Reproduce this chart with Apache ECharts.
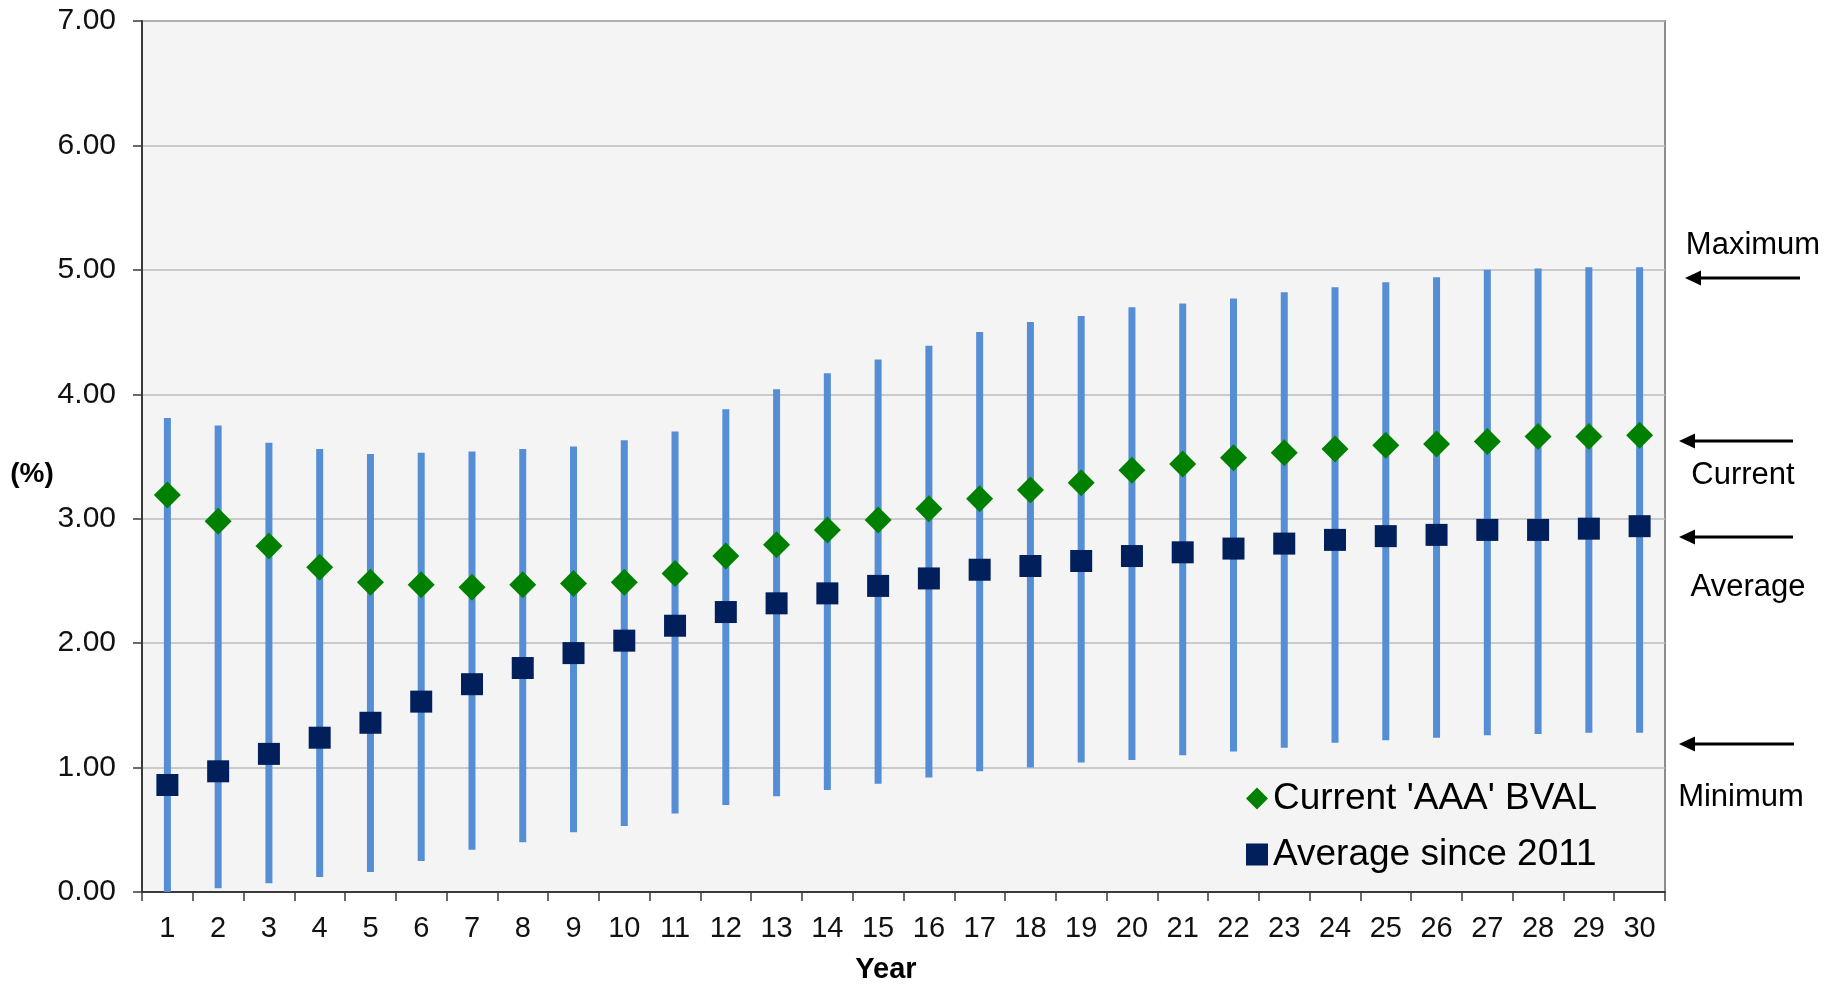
<!DOCTYPE html>
<html>
<head>
<meta charset="utf-8">
<script src="https://cdn.jsdelivr.net/npm/echarts@6/dist/echarts.min.js"></script>
<style>
html,body{margin:0;padding:0;background:#fff;}
#chart{width:1829px;height:986px;}
</style>
</head>
<body>
<div id="chart"></div>
<script>
const years = ['1','2','3','4','5','6','7','8','9','10','11','12','13','14','15','16','17','18','19','20','21','22','23','24','25','26','27','28','29','30'];
const maxValues = [3.81,3.75,3.61,3.56,3.52,3.53,3.54,3.56,3.58,3.63,3.70,3.88,4.04,4.17,4.28,4.39,4.50,4.58,4.63,4.70,4.73,4.77,4.82,4.86,4.90,4.94,5.00,5.01,5.02,5.02];
const minValues = [0.00,0.03,0.07,0.12,0.16,0.25,0.34,0.40,0.48,0.53,0.63,0.70,0.77,0.82,0.87,0.92,0.97,1.00,1.04,1.06,1.10,1.13,1.16,1.20,1.22,1.24,1.26,1.27,1.28,1.28];
const currentBVAL = [3.19,2.98,2.78,2.61,2.49,2.47,2.45,2.47,2.48,2.49,2.56,2.70,2.79,2.91,2.99,3.08,3.16,3.23,3.29,3.39,3.44,3.49,3.53,3.56,3.59,3.60,3.62,3.66,3.66,3.67];
const averageSince2011 = [0.86,0.97,1.11,1.24,1.36,1.53,1.67,1.80,1.92,2.02,2.14,2.25,2.32,2.40,2.46,2.52,2.59,2.62,2.66,2.70,2.73,2.76,2.80,2.83,2.86,2.87,2.91,2.91,2.92,2.94];
const yTicks = [0,1,2,3,4,5,6,7];
const seriesNames = ["Current 'AAA' BVAL", 'Average since 2011'];
const annotations = ['Maximum','Current','Average','Minimum'];

const FONT = '"Liberation Sans", Arial, sans-serif';
const chart = echarts.init(document.getElementById('chart'), null, {renderer:'canvas'});

function arrow(xTip, xEnd, y){
  return [
    {type:'line', shape:{x1:xTip+12, y1:y, x2:xEnd, y2:y}, style:{stroke:'#000', lineWidth:3}},
    {type:'polygon', shape:{points:[[xTip,y],[xTip+16,y-7.5],[xTip+16,y+7.5]]}, style:{fill:'#000'}}
  ];
}

const graphics = [
  {type:'text', x:32, y:474, style:{text:'(%)', font:'bold 28px '+FONT, fill:'#000', align:'center', verticalAlign:'middle'}},
  {type:'text', x:886, y:970, style:{text:'Year', font:'bold 29px '+FONT, fill:'#000', align:'center', verticalAlign:'middle'}},
  {type:'text', x:1753, y:245, style:{text:annotations[0], font:'31px '+FONT, fill:'#000', align:'center', verticalAlign:'middle'}},
  {type:'text', x:1743, y:475, style:{text:annotations[1], font:'31px '+FONT, fill:'#000', align:'center', verticalAlign:'middle'}},
  {type:'text', x:1748, y:587, style:{text:annotations[2], font:'31px '+FONT, fill:'#000', align:'center', verticalAlign:'middle'}},
  {type:'text', x:1741, y:797, style:{text:annotations[3], font:'31px '+FONT, fill:'#000', align:'center', verticalAlign:'middle'}},
  ...arrow(1685, 1800, 278),
  ...arrow(1679, 1793, 441),
  ...arrow(1679, 1793, 537),
  ...arrow(1679, 1794, 744)
];

const option = {
  backgroundColor:'#ffffff',
  animation:false,
  textStyle:{fontFamily:FONT},
  grid:{left:142, right:164, top:21, bottom:94, show:true, backgroundColor:'#F4F4F4', borderColor:'#8C8C8C', borderWidth:2},
  legend:{
    orient:'vertical', left:1241, top:775, itemWidth:22, itemHeight:22, itemGap:19,
    textStyle:{fontSize:37, color:'#000', fontFamily:FONT},
    data:[{name:seriesNames[0], icon:'diamond'},{name:seriesNames[1], icon:'rect'}]
  },
  xAxis:{
    type:'category', data:years, boundaryGap:true,
    axisLine:{lineStyle:{color:'#3A3A3A', width:2}},
    axisTick:{show:true, length:9, lineStyle:{color:'#3A3A3A', width:1.5}, interval:0},
    axisLabel:{fontSize:29, color:'#111', margin:22, interval:0, fontFamily:FONT},
    splitLine:{show:false}
  },
  yAxis:{
    type:'value', min:yTicks[0], max:yTicks[yTicks.length-1], interval:1,
    axisLine:{show:true, lineStyle:{color:'#3A3A3A', width:2}},
    axisTick:{show:true, length:9, lineStyle:{color:'#3A3A3A', width:1.5}},
    axisLabel:{fontSize:30, color:'#111', margin:26, fontFamily:FONT, formatter:v=>v.toFixed(2)},
    splitLine:{show:true, lineStyle:{color:'#BDBDBD', width:1.5}}
  },
  series:[
    {
      name:'Range', type:'custom', z:2,
      data: years.map((y,i)=>[i, minValues[i], maxValues[i]]),
      encode:{x:0, y:[1,2]},
      renderItem:function(params, api){
        const lo = api.coord([api.value(0), api.value(1)]);
        const hi = api.coord([api.value(0), api.value(2)]);
        return {type:'rect', shape:{x:lo[0]-3.5, y:hi[1], width:7, height:lo[1]-hi[1]}, style:{fill:'#558ED5'}};
      }
    },
    {
      name:seriesNames[0], type:'scatter', z:4, symbol:'diamond', symbolSize:27,
      itemStyle:{color:'#008000', opacity:1}, data:currentBVAL
    },
    {
      name:seriesNames[1], type:'scatter', z:3, symbol:'rect', symbolSize:22,
      itemStyle:{color:'#001F5B', opacity:1}, data:averageSince2011
    }
  ],
  graphic: graphics
};
chart.setOption(option);
</script>
</body>
</html>
